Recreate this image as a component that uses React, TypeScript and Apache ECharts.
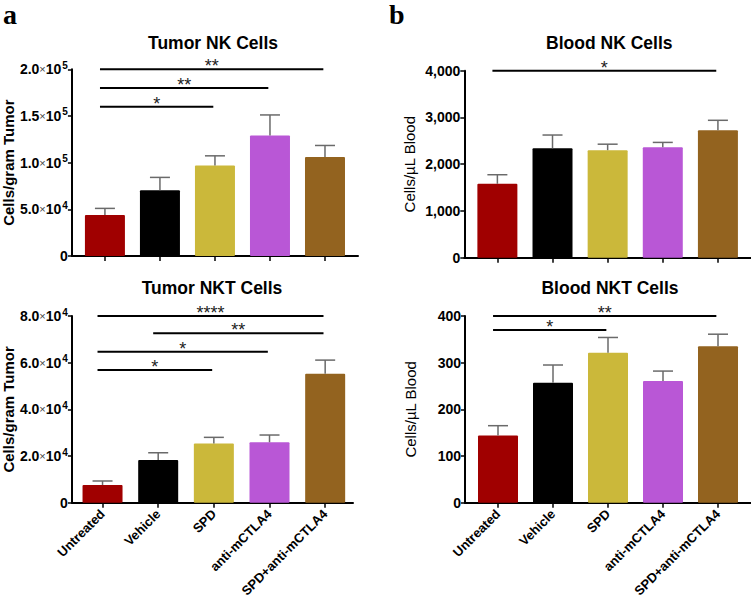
import React, { useEffect, useRef } from 'react';
import * as echarts from 'echarts';

const categories = ['Untreated', 'Vehicle', 'SPD', 'anti-mCTLA4', 'SPD+anti-mCTLA4'];
const barColors = ['#a00000', '#000000', '#cbb83a', '#b957d6', '#93631f'];

const tumorNKMean = [44000, 70500, 97000, 129000, 106000];
const tumorNKSem = [7000, 13700, 10300, 22100, 12400];
const bloodNKMean = [1580, 2340, 2300, 2365, 2725];
const bloodNKSem = [195, 284, 128, 101, 214];
const tumorNKTMean = [7600, 18300, 25400, 25900, 55300];
const tumorNKTSem = [1700, 3100, 2600, 3100, 5800];
const bloodNKTMean = [144, 257, 321, 261, 335];
const bloodNKTSem = [21, 38, 33, 21, 26];

// significance comparisons: [from group, to group, bracket height, label]
const tumorNKSig: [number, number, number, string][] = [
  [0, 4, 200000, '**'],
  [0, 3, 180000, '**'],
  [0, 2, 160000, '*'],
];
const bloodNKSig: [number, number, number, string][] = [[0, 4, 4000, '*']];
const tumorNKTSig: [number, number, number, string][] = [
  [0, 4, 80000, '****'],
  [1, 4, 72600, '**'],
  [0, 3, 64700, '*'],
  [0, 2, 56900, '*'],
];
const bloodNKTSig: [number, number, number, string][] = [
  [0, 4, 400, '**'],
  [0, 2, 370, '*'],
];

const tumorNKTicks = [0, 50000, 100000, 150000, 200000];
const bloodNKTicks = [0, 1000, 2000, 3000, 4000];
const tumorNKTTicks = [0, 20000, 40000, 60000, 80000];
const bloodNKTTicks = [0, 100, 200, 300, 400];

const FONT = 'Arial, "Liberation Sans", Helvetica, sans-serif';

function sciLabel(v: number) {
  if (v === 0) return '{b|0}';
  const exp = Math.floor(Math.log10(v));
  const mant = (v / Math.pow(10, exp)).toFixed(1);
  return `{b|${mant}}{x|×}{b|10}{s|${exp}}`;
}
function commaLabel(v: number) {
  return `{b|${v.toLocaleString('en-US')}}`;
}

const labelRich = {
  b: { fontFamily: FONT, fontWeight: 'bold', fontSize: 14, color: '#000', lineHeight: 18 },
  x: { fontFamily: FONT, fontWeight: 'normal', fontSize: 11, color: '#444', lineHeight: 18 },
  s: { fontFamily: FONT, fontWeight: 'bold', fontSize: 10, color: '#000', verticalAlign: 'top', lineHeight: 12, padding: [0, 0, 0, 1] },
};

type Panel = {
  title: string;
  yName: string;
  yNameWeight: string;
  yNameGap: number;
  grid: { left: number; top: number; width: number; height: number };
  xMin: number;
  xMax: number;
  ticks: number[];
  fmt: (v: number) => string;
  mean: number[];
  sem: number[];
  sig: [number, number, number, string][];
  showX: boolean;
};

const panels: Panel[] = [
  {
    title: 'Tumor NK Cells', yName: 'Cells/gram Tumor', yNameWeight: 'bold', yNameGap: 52,
    grid: { left: 68, top: 69.3, width: 290, height: 186.7 }, xMin: -0.6, xMax: 4.6,
    ticks: tumorNKTicks, fmt: sciLabel, mean: tumorNKMean, sem: tumorNKSem, sig: tumorNKSig, showX: false,
  },
  {
    title: 'Blood NK Cells', yName: 'Cells/µL Blood', yNameWeight: 'normal', yNameGap: 47,
    grid: { left: 464.3, top: 70.7, width: 290, height: 187 }, xMin: -0.6, xMax: 4.6,
    ticks: bloodNKTicks, fmt: commaLabel, mean: bloodNKMean, sem: bloodNKSem, sig: bloodNKSig, showX: false,
  },
  {
    title: 'Tumor NKT Cells', yName: 'Cells/gram Tumor', yNameWeight: 'bold', yNameGap: 54,
    grid: { left: 71, top: 316, width: 282, height: 186.7 }, xMin: -0.55, xMax: 4.5,
    ticks: tumorNKTTicks, fmt: sciLabel, mean: tumorNKTMean, sem: tumorNKTSem, sig: tumorNKTSig, showX: true,
  },
  {
    title: 'Blood NKT Cells', yName: 'Cells/µL Blood', yNameWeight: 'normal', yNameGap: 47,
    grid: { left: 465, top: 316, width: 290, height: 186.7 }, xMin: -0.6, xMax: 4.6,
    ticks: bloodNKTTicks, fmt: commaLabel, mean: bloodNKTMean, sem: bloodNKTSem, sig: bloodNKTSig, showX: true,
  },
];

function buildOption() {
  const grid: any[] = [];
  const xAxis: any[] = [];
  const yAxis: any[] = [];
  const series: any[] = [];
  const graphic: any[] = [];

  panels.forEach((p, k) => {
    grid.push({ ...p.grid, containLabel: false });
    const tickVals = categories.map((_, i) => i);
    xAxis.push({
      type: 'value', gridIndex: k, min: p.xMin, max: p.xMax,
      splitLine: { show: false },
      axisLine: { show: true, onZero: false, lineStyle: { color: '#000', width: 2 } },
      axisTick: { show: true, customValues: tickVals, length: 5, lineStyle: { color: '#000', width: 1.5 } },
      axisLabel: {
        show: p.showX, customValues: tickVals, rotate: 45, margin: 9,
        fontFamily: FONT, fontWeight: 'bold', fontSize: 13, color: '#000',
        formatter: (v: number) => categories[Math.round(v)] ?? '',
      },
    });
    const step = p.ticks[1] - p.ticks[0];
    yAxis.push({
      type: 'value', gridIndex: k, min: 0, max: p.ticks[p.ticks.length - 1], interval: step,
      splitLine: { show: false },
      axisLine: { show: true, onZero: false, lineStyle: { color: '#000', width: 2 } },
      axisTick: { show: true, length: 4, lineStyle: { color: '#000', width: 1.5 } },
      axisLabel: { margin: 4, formatter: p.fmt, rich: labelRich },
      name: p.yName, nameLocation: 'middle', nameGap: p.yNameGap,
      nameTextStyle: { fontFamily: FONT, fontWeight: p.yNameWeight, fontSize: 15, color: '#000' },
    });

    series.push({
      type: 'bar', xAxisIndex: k, yAxisIndex: k, barWidth: 40,
      data: p.mean.map((v, i) => ({ value: [i, v], itemStyle: { color: barColors[i], borderRadius: 1 } })),
    });
    series.push({
      type: 'custom', xAxisIndex: k, yAxisIndex: k, z: 3,
      encode: { x: 0, y: 1 },
      data: p.mean.map((v, i) => [i, v, p.sem[i]]),
      renderItem: (params: any, api: any) => {
        const x = api.value(0);
        const m = api.value(1);
        const s = api.value(2);
        const a = api.coord([x, m]);
        const b = api.coord([x, m + s]);
        const st = { stroke: '#6a6a6a', lineWidth: 1.5 };
        return {
          type: 'group',
          children: [
            { type: 'line', shape: { x1: a[0], y1: a[1], x2: b[0], y2: b[1] }, style: st },
            { type: 'line', shape: { x1: b[0] - 10, y1: b[1], x2: b[0] + 10, y2: b[1] }, style: st },
          ],
        };
      },
    });
    series.push({
      type: 'custom', xAxisIndex: k, yAxisIndex: k, z: 4, clip: false,
      encode: { x: 0, y: 1 },
      data: p.sig.map((s) => [s[0], s[2]]),
      renderItem: (params: any, api: any) => {
        const s = p.sig[params.dataIndex];
        const a = api.coord([s[0] - 0.09, s[2]]);
        const b = api.coord([s[1] - 0.03, s[2]]);
        return {
          type: 'group',
          children: [
            { type: 'line', shape: { x1: a[0], y1: a[1], x2: b[0], y2: b[1] }, style: { stroke: '#000', lineWidth: 2 } },
            {
              type: 'text',
              style: {
                text: s[3], x: (a[0] + b[0]) / 2, y: a[1] - 12,
                align: 'center', verticalAlign: 'top',
                font: `normal 18px ${FONT}`, fill: '#222',
              },
            },
          ],
        };
      },
    });

    graphic.push({
      type: 'text',
      x: p.grid.left + (p.xMax - p.xMin > 5.1 ? 145 : 141), y: k < 2 ? 43 : 288,
      style: {
        text: p.title, align: 'center', verticalAlign: 'middle',
        font: `bold 17.5px ${FONT}`, fill: '#000',
      },
    });
  });

  graphic.push({
    type: 'text', x: 3, y: 28,
    style: { text: 'a', align: 'left', verticalAlign: 'bottom', font: 'bold 28px "Liberation Serif", "Times New Roman", serif', fill: '#000' },
  });
  graphic.push({
    type: 'text', x: 389, y: 28,
    style: { text: 'b', align: 'left', verticalAlign: 'bottom', font: 'bold 28px "Liberation Serif", "Times New Roman", serif', fill: '#000' },
  });

  return {
    animation: false,
    backgroundColor: '#fff',
    grid, xAxis, yAxis, series, graphic,
  };
}

export default function App() {
  const ref = useRef<HTMLDivElement>(null);
  useEffect(() => {
    if (!ref.current) return;
    const chart = echarts.init(ref.current, undefined, { renderer: 'svg' });
    chart.setOption(buildOption() as any);
    return () => chart.dispose();
  }, []);
  return <div ref={ref} style={{ position: 'absolute', left: 0, top: 0, width: 751, height: 600, background: '#fff' }} />;
}
